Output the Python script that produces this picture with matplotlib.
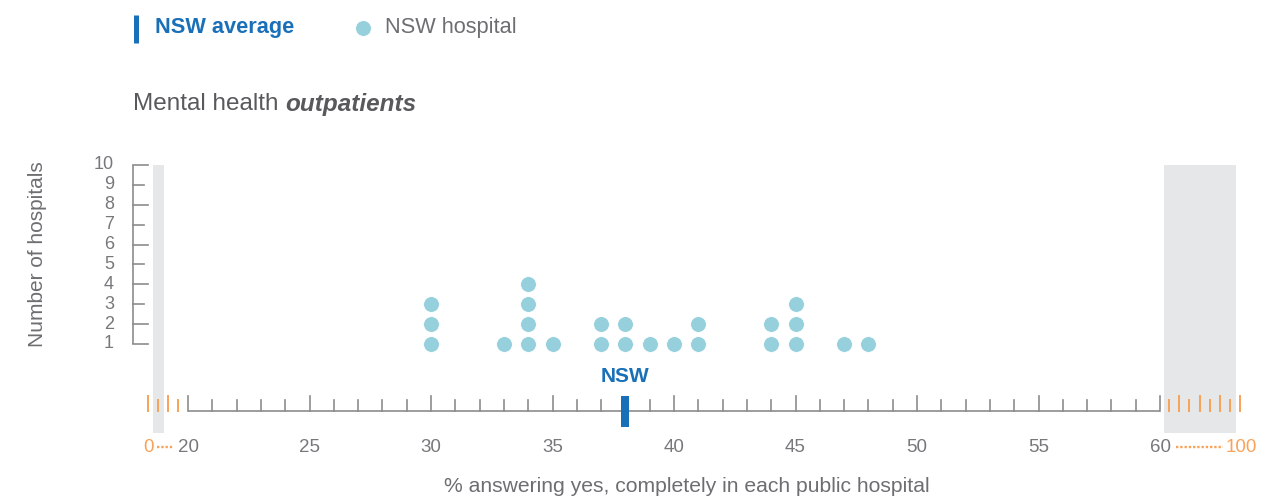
import numpy as np
import matplotlib
matplotlib.use("Agg")
import matplotlib.pyplot as plt

plt.rcParams['font.family'] = ['Liberation Sans', 'DejaVu Sans']

# % answering yes, and how many hospitals scored that value
scores = [30, 33, 34, 35, 37, 38, 39, 40, 41, 44, 45, 47, 48]
counts = [3, 1, 4, 1, 2, 2, 1, 1, 2, 2, 3, 1, 1]
nsw_average = 38

x_ticks = list(range(20, 61))
x_labels = [20, 25, 30, 35, 40, 45, 50, 55, 60]
y_ticks = list(range(1, 11))

# compressed 0-20 and 60-100 stretches shown as orange ticks
left_break_ticks = [18.34, 18.78, 19.16, 19.60]
right_break_ticks = [60.38, 60.79, 61.21, 61.63, 62.04, 62.46, 62.87, 63.29]

BLUE = '#1a70b8'
DOT = '#96d0dc'
GREY_TXT = '#6d6e71'
TICK_TXT = '#77787b'
AXIS = '#8c8c8c'
ORANGE = '#f9a259'
BAND = '#e6e7e8'

W, H = 1287, 500
PX_PER_X = 24.3
PX_PER_Y = 19.89


def vx(px):
    return 20 + (px - 188) / PX_PER_X


def vy(py):
    return 1 + (344 - py) / PX_PER_Y


fig = plt.figure(figsize=(W / 100, H / 100), dpi=100)
ax = fig.add_axes([0, 0, 1, 1])
ax.set_xlim(vx(0), vx(W))
ax.set_ylim(vy(H), vy(0))
ax.axis('off')

# grey bands for the broken parts of the scale
ax.axvspan(vx(152.5), vx(163.5), ymin=1 - 433 / H, ymax=1 - 165 / H, color=BAND, lw=0, zorder=0)
ax.axvspan(vx(1164), vx(1236), ymin=1 - 433 / H, ymax=1 - 165 / H, color=BAND, lw=0, zorder=0)

# y axis
yx = vx(132.5)
ax.plot([yx, yx], [1, 10], color=AXIS, lw=1.2, solid_capstyle='butt')
for t in y_ticks:
    ln = 15 if (t % 2 == 0 or t == 1) else 11
    ax.plot([yx, vx(132.5 + ln)], [t, t], color=AXIS, lw=1.2)
    ax.text(vx(114), t, str(t), ha='right', va='center', fontsize=13, color=TICK_TXT)
ax.text(vx(38), vy(254), 'Number of hospitals', rotation=90, ha='center', va='center',
        fontsize=15, color=GREY_TXT)

# x axis
base = vy(411)
ax.plot([x_ticks[0], x_ticks[-1]], [base, base], color=AXIS, lw=1.2, solid_capstyle='butt')
for t in x_ticks:
    ln = 15 if t % 5 == 0 else 11
    ax.plot([t, t], [base, vy(411 - ln)], color=AXIS, lw=1.2)
for t in x_labels:
    ax.text(t, vy(447), str(t), ha='center', va='center', fontsize=13.5, color=TICK_TXT)

for i, t in enumerate(left_break_ticks):
    ln = 15 if i % 2 == 0 else 11
    ax.plot([t, t], [base, vy(411 - ln)], color=ORANGE, lw=1.4)
for i, t in enumerate(right_break_ticks):
    ln = 11 if i % 2 == 0 else 15
    ax.plot([t, t], [base, vy(411 - ln)], color=ORANGE, lw=1.4)

ax.text(vx(148), vy(447), '0', ha='center', va='center', fontsize=13.5, color=ORANGE)
ax.plot([vx(157), vx(174)], [vy(447), vy(447)], color=ORANGE, lw=1.7, ls=(0, (1, 0.8)))
ax.plot([vx(1176), vx(1223)], [vy(447), vy(447)], color=ORANGE, lw=1.7, ls=(0, (1, 0.8)))
ax.text(vx(1241), vy(447), '100', ha='center', va='center', fontsize=13.5, color=ORANGE)

ax.text(vx(687), vy(487), '% answering yes, completely in each public hospital',
        ha='center', va='center', fontsize=15.2, color=GREY_TXT)

# hospital dots, stacked by count
for s, c in zip(scores, counts):
    ys = np.arange(1, c + 1)
    ax.scatter([s] * c, ys, s=130, color=DOT, edgecolors='white', linewidths=0.6, zorder=3)

# NSW average marker
ax.plot([nsw_average, nsw_average], [vy(396), vy(427)], color=BLUE, lw=8 * 0.72,
        solid_capstyle='butt', zorder=4)
ax.text(nsw_average, vy(377), 'NSW', ha='center', va='center', fontsize=15,
        fontweight='bold', color=BLUE)

# title
t1 = ax.text(vx(133), vy(104), 'Mental health ', ha='left', va='center', fontsize=17.5, color='#58595b')
fig.canvas.draw()
bb = t1.get_window_extent()
inv = ax.transData.inverted()
x_end = inv.transform((bb.x1, bb.y0))[0]
ax.text(x_end, vy(104), 'outpatients', ha='left', va='center', fontsize=17.5,
        fontweight='bold', fontstyle='italic', color='#58595b')

# legend
ax.plot([vx(135.5), vx(135.5)], [vy(15), vy(43)], color=BLUE, lw=5 * 0.72, solid_capstyle='butt')
ax.text(vx(155), vy(28), 'NSW average', ha='left', va='center', fontsize=15.7,
        fontweight='bold', color=BLUE)
ax.scatter([vx(363)], [vy(28)], s=130, color=DOT, edgecolors='white', linewidths=0.6)
ax.text(vx(385), vy(28), 'NSW hospital', ha='left', va='center', fontsize=15.7, color=GREY_TXT)

fig.savefig('out.png', dpi=100)
